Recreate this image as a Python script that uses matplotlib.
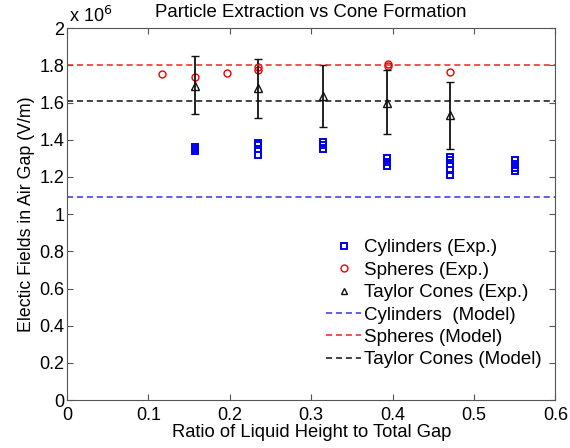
import numpy as np
import matplotlib
matplotlib.use('Agg')
import matplotlib.pyplot as plt
from matplotlib.ticker import FormatStrFormatter
from matplotlib.lines import Line2D

plt.rcParams['font.family'] = ['Liberation Sans', 'DejaVu Sans']

# Electric field values in units of 10^6 V/m
cyl_x = [0.157] * 3 + [0.235] * 4 + [0.314] * 3 + [0.393] * 3 + [0.471] * 5 + [0.55] * 4
cyl_y = [1.34, 1.35, 1.36,
         1.32, 1.35, 1.37, 1.38,
         1.35, 1.37, 1.39,
         1.26, 1.28, 1.30,
         1.21, 1.24, 1.27, 1.29, 1.31,
         1.23, 1.25, 1.27, 1.29]

sph_x = [0.117, 0.157, 0.196, 0.235, 0.235, 0.394, 0.394, 0.471]
sph_y = [1.752, 1.738, 1.758, 1.775, 1.79, 1.795, 1.805, 1.765]

cone_x = [0.157, 0.235, 0.314, 0.393, 0.471]
cone_y = [1.688, 1.680, 1.635, 1.600, 1.532]
cone_hi = [1.848, 1.836, 1.802, 1.777, 1.713]
cone_lo = [1.536, 1.516, 1.470, 1.433, 1.353]

model_cyl = 1.09
model_sph = 1.80
model_cone = 1.61

fig = plt.figure(figsize=(5.7, 4.48), dpi=100)
ax = fig.add_axes([0.1175, 0.107, 0.857, 0.83])

cone_y = np.array(cone_y)
yerr = [cone_y - np.array(cone_lo), np.array(cone_hi) - cone_y]

ax.plot(cyl_x, cyl_y, 's', mfc='none', mec='#0000ee', mew=1.4, ms=5, linestyle='none')
ax.plot(sph_x, sph_y, 'o', mfc='none', mec='#ee0000', mew=1.0, ms=5, linestyle='none')
ax.errorbar(cone_x, cone_y, yerr=yerr, fmt='^', mfc='none', mec='#111111',
            ecolor='#111111', elinewidth=1.3, capsize=3, capthick=1.3,
            mew=1.0, ms=6)

dash = (0, (4, 2.5))
ax.axhline(model_cyl, color='#3333ee', ls=dash, lw=1.1)
ax.axhline(model_sph, color='#ee2222', ls=dash, lw=1.1)
ax.axhline(model_cone, color='#111111', ls=dash, lw=1.1)

ax.set_xlim(0, 0.6)
ax.set_ylim(0, 2)
ax.set_xticks(np.arange(0, 0.61, 0.1))
ax.set_yticks(np.arange(0, 2.01, 0.2))
ax.xaxis.set_major_formatter(FormatStrFormatter('%g'))
ax.yaxis.set_major_formatter(FormatStrFormatter('%g'))
ax.tick_params(direction='in', top=True, right=True, length=4,
               labelsize=13, color='#555555', pad=2)
ax.tick_params(axis='x', pad=5)
for s in ax.spines.values():
    s.set_color('#555555')

ax.set_title('Particle Extraction vs Cone Formation', fontsize=13.4, pad=8)
ax.set_xlabel('Ratio of Liquid Height to Total Gap', fontsize=13.2, labelpad=0)
ax.set_ylabel('Electic Fields in Air Gap (V/m)', fontsize=12.8, labelpad=3)
ax.text(0.005, 1.005, r'x 10$^6$', transform=ax.transAxes, fontsize=13,
        ha='left', va='bottom')

handles = [
    Line2D([], [], ls='none', marker='s', mfc='none', mec='#0000ee', mew=1.4, ms=5),
    Line2D([], [], ls='none', marker='o', mfc='none', mec='#ee0000', mew=1.0, ms=5),
    Line2D([], [], ls='none', marker='^', mfc='none', mec='#111111', mew=1.0, ms=5),
    Line2D([], [], color='#3333ee', ls=dash, lw=1.1),
    Line2D([], [], color='#ee2222', ls=dash, lw=1.1),
    Line2D([], [], color='#111111', ls=dash, lw=1.1),
]
labels = ['Cylinders (Exp.)', 'Spheres (Exp.)', 'Taylor Cones (Exp.)',
          'Cylinders  (Model)', 'Spheres (Model)', 'Taylor Cones (Model)']
ax.legend(handles, labels, loc='lower right', bbox_to_anchor=(0.995, 0.055),
          frameon=False, fontsize=13.5, handlelength=1.9, handletextpad=0.15,
          labelspacing=0.28, borderaxespad=0.2)

fig.savefig('out.png', dpi=100)
